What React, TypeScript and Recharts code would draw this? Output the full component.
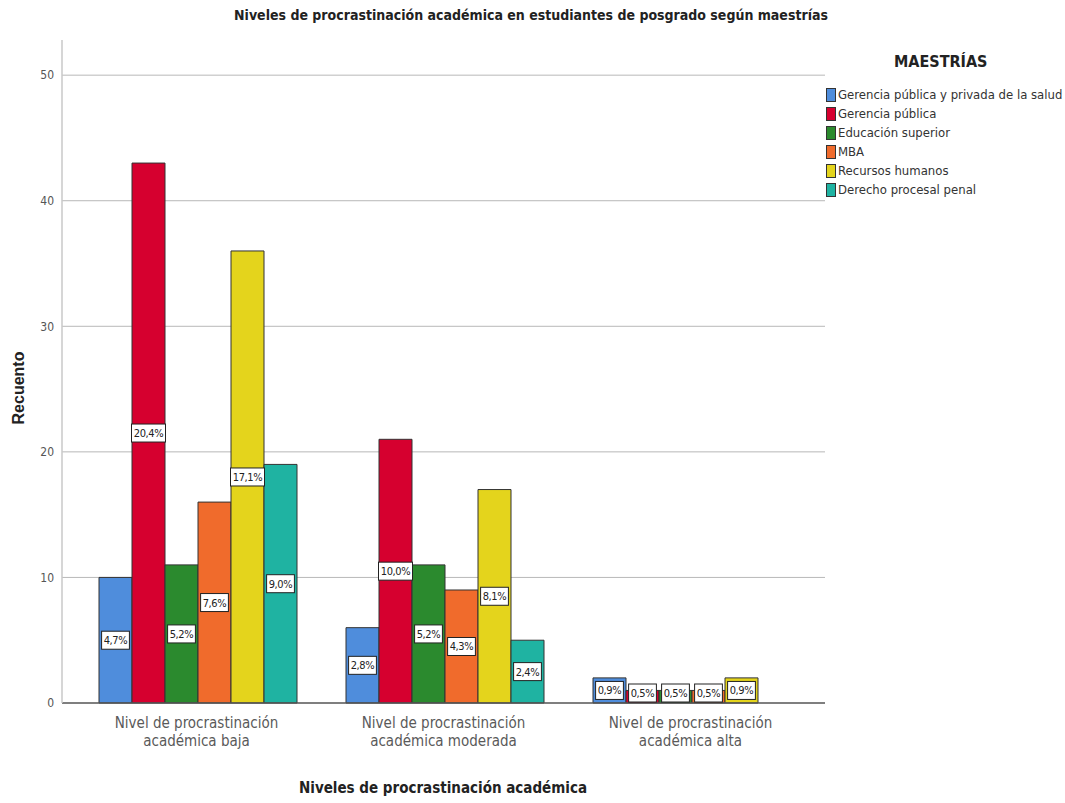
import { BarChart, Bar, XAxis, YAxis, CartesianGrid, LabelList } from 'recharts';

const niveles = [
  'Nivel de procrastinación|académica baja',
  'Nivel de procrastinación|académica moderada',
  'Nivel de procrastinación|académica alta',
];

const gerenciaSalud = [10, 6, 2];
const gerenciaPublica = [43, 21, 1];
const educacionSuperior = [11, 11, 1];
const mba = [16, 9, 1];
const recursosHumanos = [36, 17, 2];
const derechoProcesal = [19, 5, 0];

const yTicks = [0, 10, 20, 30, 40, 50];
const gridValues = [10, 20, 30, 40, 50];

const series = [
  { key: 'salud', name: 'Gerencia pública y privada de la salud', color: '#4f8ddc', values: gerenciaSalud },
  { key: 'publica', name: 'Gerencia pública', color: '#d6002f', values: gerenciaPublica },
  { key: 'educacion', name: 'Educación superior', color: '#2b8a2e', values: educacionSuperior },
  { key: 'mba', name: 'MBA', color: '#f06b2c', values: mba },
  { key: 'rrhh', name: 'Recursos humanos', color: '#e4d41c', values: recursosHumanos },
  { key: 'derecho', name: 'Derecho procesal penal', color: '#1fb3a2', values: derechoProcesal },
];

const total = series.reduce((s, x) => s + x.values.reduce((a, b) => a + b, 0), 0);

const data = niveles.map((nivel, i) => {
  const row: Record<string, string | number> = { nivel };
  series.forEach((s) => {
    row[s.key] = s.values[i];
  });
  return row;
});

const narrow = '"Liberation Sans Narrow", "DejaVu Sans Condensed", "Arial Narrow", sans-serif';

// percentage box drawn in the middle of each bar (kept above the axis for tiny bars)
function PctLabel(props: any) {
  const { x, y, width, height, value } = props;
  if (!value) return null;
  const txt = (Math.round((value / total) * 1000) / 10).toFixed(1).replace('.', ',') + '%';
  const w = txt.length * 6.2 + 3;
  const h = 18;
  const cx = x + width / 2;
  const cy = Math.min(y + height / 2, y + height - 10);
  return (
    <g>
      <rect x={cx - w / 2} y={cy - h / 2} width={w} height={h} fill="#fff" stroke="#222" strokeWidth={1} />
      <text
        x={cx}
        y={cy + 4}
        textAnchor="middle"
        fontFamily={narrow}
        fontSize={11}
        letterSpacing={-0.4}
        fill="#222"
      >
        {txt}
      </text>
    </g>
  );
}

function XTick(props: any) {
  const { x, y, payload } = props;
  const lines = String(payload.value).split('|');
  return (
    <text x={x} y={y + 8} textAnchor="middle" fontFamily={narrow} fontSize={15} fill="#5a5a5a">
      {lines.map((l, i) => (
        <tspan key={i} x={x} dy={i === 0 ? 9 : 18}>
          {l}
        </tspan>
      ))}
    </text>
  );
}

function LegendBox() {
  return (
    <div style={{ position: 'absolute', left: 826, top: 52, width: 240, fontFamily: narrow, color: '#333' }}>
      <div style={{ fontWeight: 'bold', fontSize: 16, color: '#222', marginLeft: 68, marginBottom: 14 }}>MAESTRÍAS</div>
      {series.map((s) => (
        <div key={s.key} style={{ display: 'flex', alignItems: 'center', height: 19, fontSize: 13 }}>
          <span
            style={{
              display: 'inline-block',
              width: 10,
              height: 14,
              background: s.color,
              border: '1px solid #333',
              marginRight: 2,
              boxSizing: 'border-box',
            }}
          />
          {s.name}
        </div>
      ))}
    </div>
  );
}

export default function App() {
  return (
    <div style={{ position: 'absolute', left: 0, top: 0, width: 1065, height: 803, background: '#fff' }}>
      <BarChart
        width={1065}
        height={803}
        data={data}
        margin={{ top: 40, right: 240, left: 22, bottom: 40 }}
        barCategoryGap={26}
        barGap={0}
      >
        <text x={531} y={20} textAnchor="middle" fontFamily={narrow} fontWeight="bold" fontSize={14} fill="#222">
          Niveles de procrastinación académica en estudiantes de posgrado según maestrías
        </text>
        <text x={443} y={793} textAnchor="middle" fontFamily={narrow} fontWeight="bold" fontSize={15} fill="#222">
          Niveles de procrastinación académica
        </text>
        <text
          x={24}
          y={388}
          textAnchor="middle"
          fontFamily='"Liberation Sans", Arial, sans-serif'
          fontWeight="bold"
          fontSize={16}
          fill="#222"
          transform="rotate(-90 24 388)"
        >
          Recuento
        </text>
        <CartesianGrid vertical={false} horizontalValues={gridValues} stroke="#b8b8b8" />
        <XAxis
          dataKey="nivel"
          tick={<XTick />}
          tickLine={false}
          axisLine={{ stroke: '#555', strokeWidth: 1.5 }}
          padding={{ left: 11, right: 11 }}
          height={60}
          interval={0}
        />
        <YAxis
          domain={[0, 52.8]}
          ticks={yTicks}
          width={40}
          tickLine={false}
          axisLine={{ stroke: '#c8c8c8', strokeWidth: 1.5 }}
          tick={{ fontFamily: narrow, fontSize: 12, fill: '#555' }}
        />
        {series.map((s) => (
          <Bar
            key={s.key}
            dataKey={s.key}
            name={s.name}
            fill={s.color}
            stroke="#333"
            strokeWidth={1}
            isAnimationActive={false}
          >
            <LabelList dataKey={s.key} content={<PctLabel />} />
          </Bar>
        ))}
      </BarChart>
      <LegendBox />
    </div>
  );
}
